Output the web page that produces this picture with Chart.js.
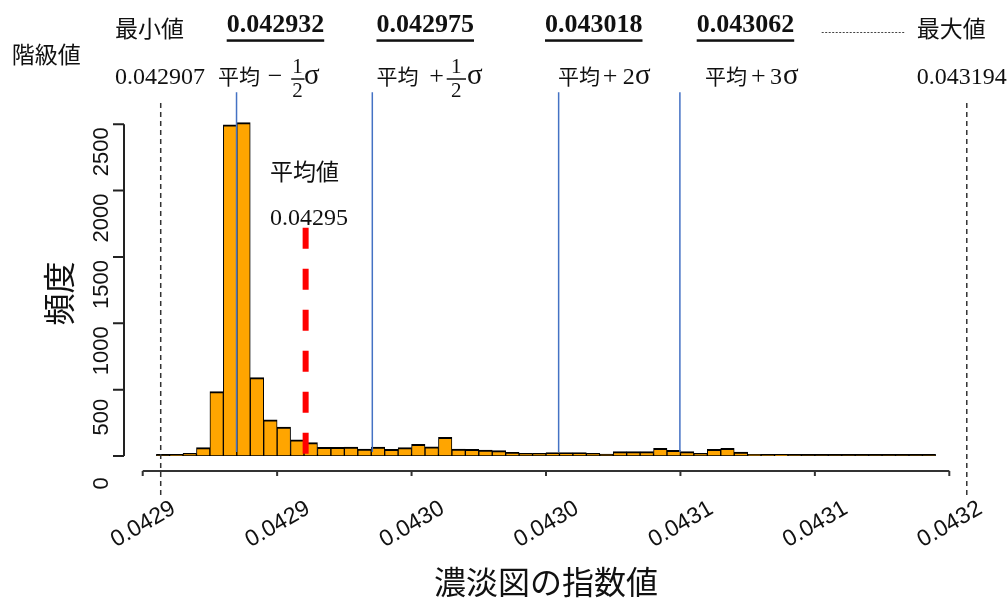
<!DOCTYPE html>
<html>
<head>
<meta charset="utf-8">
<script src="https://cdn.jsdelivr.net/npm/chart.js@4.4.1/dist/chart.umd.min.js"></script>
<style>
    body { margin: 0; background: #fff; }
</style>
</head>
<body>
<canvas id="HistChart" width="1007" height="601"></canvas>
<script>

// histogram classes (width 0.000005, starting at 0.042905)
var binStart = 0.042905;
var binWidth = 0.000005;
var binCounts = [2, 7, 20, 63, 485, 2495, 2512, 590, 273, 218,
                 121, 101, 65, 65, 68, 52, 68, 50, 63, 88,
                 70, 141, 53, 50, 45, 40, 28, 20, 20, 25,
                 25, 25, 20, 15, 33, 33, 33, 58, 43, 33,
                 20, 50, 58, 30, 12, 8, 5, 3, 2, 2,
                 1, 1, 1, 1, 1, 1, 1, 1];

var xTickValues = [0.0429, 0.04295, 0.043, 0.04305, 0.0431, 0.04315, 0.0432];
var xTickLabels = ['0.0429', '0.0429', '0.0430', '0.0430', '0.0431', '0.0431', '0.0432'];
var yTickValues = [0, 500, 1000, 1500, 2000, 2500];
var yTickLabels = ['0', '500', '1000', '1500', '2000', '2500'];

// reference lines, where they sit on the axis in the figure
var rangeLinePos = [0.0429067, 0.0432065];          // min / max
var sigmaLinePos = [0.0429349, 0.0429854, 0.0430547, 0.0430998];
var meanLinePos = 0.0429606;

// texts of the annotation rows
var classValues = ['0.042932', '0.042975', '0.043018', '0.043062'];
var minValueText = '0.042907';
var maxValueText = '0.043194';
var meanValueText = '0.04295';


var JP = "'Noto Sans CJK JP', sans-serif";
var SERIF = "'Liberation Serif', serif";

function put(ctx, s, x, y, font, align, baseline) {
    ctx.font = font;
    ctx.textAlign = align || 'left';
    ctx.textBaseline = baseline || 'middle';
    ctx.fillText(s, x, y);
}

function fraction(ctx, cx, barY, x0, x1) {
    put(ctx, '1', cx, barY - 12, '21px ' + SERIF, 'center');
    put(ctx, '2', cx, barY + 12, '21px ' + SERIF, 'center');
    ctx.fillRect(x0, barY - 0.75, x1 - x0, 1.5);
}

var rAxes = {
    id: 'rAxes',
    beforeDatasetsDraw: function (chart) {
        // zero-height classes show up as a line along 0
        var ctx = chart.ctx, xs = chart.scales.x, ys = chart.scales.y;
        var y0 = ys.getPixelForValue(0) - 1;
        ctx.save();
        ctx.strokeStyle = '#000';
        ctx.lineWidth = 2.2;
        ctx.beginPath();
        ctx.moveTo(xs.getPixelForValue(binStart), y0);
        ctx.lineTo(xs.getPixelForValue(binStart + binWidth * binCounts.length), y0);
        ctx.stroke();
        ctx.restore();
    },
    afterDraw: function (chart) {
        var ctx = chart.ctx, xs = chart.scales.x, ys = chart.scales.y;
        ctx.save();
        ctx.strokeStyle = '#222';
        ctx.lineWidth = 2;

        // y axis, set off to the left of the plot
        var ax = chart.chartArea.left - 18.7;
        ctx.beginPath();
        ctx.moveTo(ax, ys.getPixelForValue(yTickValues[0]));
        ctx.lineTo(ax, ys.getPixelForValue(yTickValues[yTickValues.length - 1]));
        yTickValues.forEach(function (v) {
            var p = ys.getPixelForValue(v);
            ctx.moveTo(ax, p);
            ctx.lineTo(ax - 11, p);
        });
        ctx.stroke();

        // x axis, set off below the plot
        var ay = ys.getPixelForValue(0) + 15;
        ctx.strokeStyle = '#333';
        ctx.beginPath();
        ctx.moveTo(xs.getPixelForValue(xTickValues[0]), ay);
        ctx.lineTo(xs.getPixelForValue(xTickValues[xTickValues.length - 1]), ay);
        xTickValues.forEach(function (v) {
            var p = xs.getPixelForValue(v);
            ctx.moveTo(p, ay);
            ctx.lineTo(p, ay + 5);
        });
        ctx.stroke();

        ctx.fillStyle = '#111';

        // y title
        ctx.save();
        ctx.translate(59, 293.5);
        ctx.rotate(-Math.PI / 2);
        put(ctx, '頻度', 0, 0, '32px ' + JP, 'center');
        ctx.restore();

        // first row: class values
        put(ctx, '最小値', 115, 28, '23px ' + JP);
        var numLeft = [226.7, 376.5, 545, 696.7];
        classValues.forEach(function (s, i) {
            put(ctx, s, numLeft[i], 25, 'bold 26px ' + SERIF);
            var w = ctx.measureText(s).width;
            ctx.fillRect(numLeft[i], 39.3, w, 2.5);
        });
        ctx.save();
        ctx.strokeStyle = '#444';
        ctx.lineWidth = 1.2;
        ctx.setLineDash([2, 1.5]);
        ctx.beginPath();
        ctx.moveTo(821.7, 32.5);
        ctx.lineTo(905, 32.5);
        ctx.stroke();
        ctx.restore();
        put(ctx, '最大値', 916.7, 28, '23px ' + JP);

        put(ctx, '階級値', 11.7, 54, '23px ' + JP);

        // second row
        put(ctx, minValueText, 115, 78, '24px ' + SERIF);
        put(ctx, maxValueText, 916.7, 78, '24px ' + SERIF);

        put(ctx, '平均', 218, 76.5, '21px ' + JP);
        put(ctx, '\u2212', 275, 77, '26px ' + SERIF, 'center');
        fraction(ctx, 297.5, 79, 291.2, 304.5);
        put(ctx, 'σ', 304, 83.5, '29px ' + SERIF, 'left', 'alphabetic');

        put(ctx, '平均', 376.5, 76.5, '21px ' + JP);
        put(ctx, '+', 436.7, 77, '26px ' + SERIF, 'center');
        fraction(ctx, 456.3, 79, 446.7, 466);
        put(ctx, 'σ', 467, 83.5, '29px ' + SERIF, 'left', 'alphabetic');

        put(ctx, '平均', 558, 76.5, '21px ' + JP);
        put(ctx, '+', 610, 77, '26px ' + SERIF, 'center');
        put(ctx, '2', 622.7, 83.5, '24px ' + SERIF, 'left', 'alphabetic');
        put(ctx, 'σ', 635, 83.5, '29px ' + SERIF, 'left', 'alphabetic');

        put(ctx, '平均', 705, 76.5, '21px ' + JP);
        put(ctx, '+', 758.3, 77, '26px ' + SERIF, 'center');
        put(ctx, '3', 770, 83.5, '24px ' + SERIF, 'left', 'alphabetic');
        put(ctx, 'σ', 783, 83.5, '29px ' + SERIF, 'left', 'alphabetic');

        // mean label inside the plot
        put(ctx, '平均値', 270, 171.7, '23px ' + JP);
        put(ctx, meanValueText, 270, 219, '24px ' + SERIF);

        ctx.restore();
    }
};


function vline(pos, top, bottom, color, width, dash) {
    return {
        type: 'line',
        data: [{x: pos, y: top}, {x: pos, y: bottom}],
        borderColor: color,
        borderWidth: width,
        borderDash: dash,
        pointRadius: 0,
        fill: false,
        clip: false,
        order: 0
    };
}


document.addEventListener('DOMContentLoaded', function () {

    var histData = binCounts.map(function (c, i) {
        return {x: binStart + binWidth * (i + 0.5), y: c};
    });

    var datasets = [{
        type: 'bar',
        data: histData,
        backgroundColor: '#FFA500',
        borderColor: '#000',
        borderWidth: {top: 2, bottom: 1, left: 1, right: 1},
        borderSkipped: false,
        barPercentage: 1,
        categoryPercentage: 1,
        grouped: false,
        order: 10
    }];

    rangeLinePos.forEach(function (p) {
        datasets.push(vline(p, 2660, -310, '#333', 1.5, [5, 4]));
    });
    sigmaLinePos.forEach(function (p) {
        datasets.push(vline(p, 2740, 30, '#4472C4', 1.5, []));
    });
    datasets.push(vline(meanLinePos, 1720, 0, '#FF0000', 6, [21, 20]));

    new Chart(document.getElementById('HistChart'), {
        type: 'bar',
        data: {datasets: datasets},
        options: {
            responsive: false,
            animation: false,
            layout: {padding: {top: 91, right: 57.7, bottom: 0, left: 0}},
            plugins: {
                legend: {display: false},
                tooltip: {enabled: false}
            },
            scales: {
                x: {
                    type: 'linear',
                    min: 0.0429,
                    max: 0.0432,
                    offset: false,
                    grid: {display: false, drawTicks: true, tickLength: 20},
                    border: {display: false},
                    afterBuildTicks: function (s) {
                        s.ticks = xTickValues.map(function (v) { return {value: v}; });
                    },
                    afterFit: function (s) { s.height = 145; },
                    ticks: {
                        autoSkip: false,
                        minRotation: 30,
                        maxRotation: 30,
                        padding: 19,
                        labelOffset: 31,
                        color: '#111',
                        font: {family: 'Liberation Sans', size: 23},
                        callback: function (v, i) { return xTickLabels[i]; }
                    },
                    title: {
                        display: true,
                        text: '濃淡図の指数値',
                        color: '#111',
                        font: {family: 'Noto Sans CJK JP', size: 32},
                        padding: {top: 0, bottom: 0}
                    }
                },
                y: {
                    min: 0,
                    max: 2750,
                    grid: {display: false, drawTicks: true, tickLength: 8},
                    border: {display: false},
                    afterBuildTicks: function (s) {
                        s.ticks = yTickValues.map(function (v) { return {value: v}; });
                    },
                    afterFit: function (s) { s.width = 142.7; },
                    ticks: {
                        minRotation: 90,
                        maxRotation: 90,
                        crossAlign: 'center',
                        padding: 8.5,
                        labelOffset: 27.5,
                        color: '#111',
                        font: {family: 'Liberation Sans', size: 22},
                        callback: function (v, i) { return yTickLabels[i]; }
                    }
                }
            }
        },
        plugins: [rAxes]
    });
});
</script>
</body>
</html>
